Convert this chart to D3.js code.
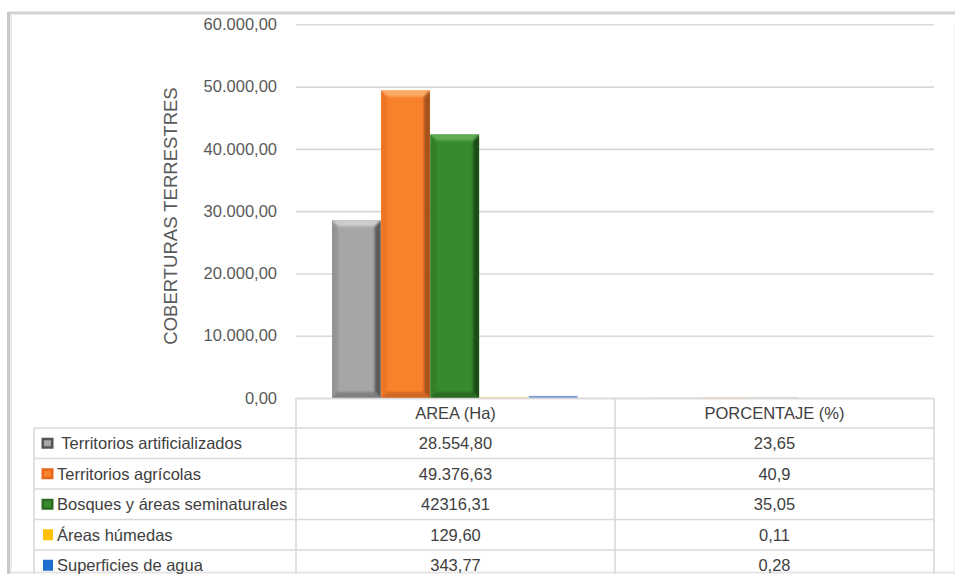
<!DOCTYPE html>
<html>
<head>
<meta charset="utf-8">
<script src="https://cdn.jsdelivr.net/npm/d3@7"></script>
<style>
  html, body { margin: 0; padding: 0; background: #ffffff; }
  svg { display: block; font-family: "Liberation Sans", Arial, sans-serif; }
  text { white-space: pre; }
</style>
</head>
<body>
<svg id="chart" width="955" height="574"></svg>
<script>
// Land cover groups and their values
const categories = ["AREA (Ha)", "PORCENTAJE (%)"];
const seriesNames = [
  " Territorios artificializados",
  "Territorios agrícolas",
  "Bosques y áreas seminaturales",
  "Áreas húmedas",
  "Superficies de agua"
];
const areaValues = [28554.80, 49376.63, 42316.31, 129.60, 343.77];
const percentValues = [23.65, 40.9, 35.05, 0.11, 0.28];
const areaLabels = ["28.554,80", "49.376,63", "42316,31", "129,60", "343,77"];
const percentLabels = ["23,65", "40,9", "35,05", "0,11", "0,28"];
const yTicks = [0, 10000, 20000, 30000, 40000, 50000, 60000];
const axisTitle = "COBERTURAS TERRESTRES";

// Fill palette per series: base, top, left, right, bottom bevel faces
const palette = [
  { base: "#a6a6a6", top: "#cdcdcd", left: "#949494", right: "#5c5c5c", bottom: "#808080", bevel: true },
  { base: "#f8812b", top: "#fcaa66", left: "#ee7421", right: "#a9521a", bottom: "#cf6820", bevel: true },
  { base: "#378b2e", top: "#62ab57", left: "#307f28", right: "#1a4d15", bottom: "#2a6a22", bevel: true },
  { base: "#f3cf7a", top: "#f3cf7a", left: "#f3cf7a", right: "#f3cf7a", bottom: "#f3cf7a", bevel: false },
  { base: "#7d9fd6", top: "#7d9fd6", left: "#7d9fd6", right: "#7d9fd6", bottom: "#7d9fd6", bevel: false }
];
const markerColors = ["#555555", "#e8661d", "#2a6d22", "#ffc000", "#1f6fd0"];

const svg = d3.select("#chart");
const defs = svg.append("defs");
defs.append("filter").attr("id", "soft")
  .attr("x", "-10%").attr("y", "-10%").attr("width", "120%").attr("height", "120%")
  .append("feGaussianBlur").attr("stdDeviation", 0.9);

const plot = { left: 296, right: 934, top: 24.3, bottom: 398 };

const y = d3.scaleLinear().domain([0, 60000]).range([plot.bottom, plot.top]);
const x0 = d3.scaleBand().domain(categories).range([plot.left, plot.right]);
const x1 = d3.scaleBand().domain(d3.range(seriesNames.length))
  .range([36, x0.bandwidth() - 37]);

const locale = d3.formatLocale({ decimal: ",", thousands: ".", grouping: [3], currency: ["", ""] });
const fmt = locale.format(",.2f");

// Outer frame
svg.append("line").attr("x1", 8).attr("x2", 955).attr("y1", 13).attr("y2", 13)
  .attr("stroke", "#d4d4d4").attr("stroke-width", 3);
svg.append("line").attr("x1", 8.5).attr("x2", 8.5).attr("y1", 12).attr("y2", 574)
  .attr("stroke", "#c9c9c9").attr("stroke-width", 3);
svg.append("line").attr("x1", 11).attr("x2", 11).attr("y1", 15).attr("y2", 574)
  .attr("stroke", "#ececec").attr("stroke-width", 2);
svg.append("line").attr("x1", 954).attr("x2", 954).attr("y1", 24).attr("y2", 574)
  .attr("stroke", "#f0f0f0").attr("stroke-width", 1);
svg.append("line").attr("x1", 10).attr("x2", 955).attr("y1", 572.5).attr("y2", 572.5)
  .attr("stroke", "#e6e6e6").attr("stroke-width", 2);

// Gridlines
const yAxis = d3.axisLeft(y).tickValues(yTicks).tickSize(-(plot.right - plot.left)).tickFormat("");
const gGrid = svg.append("g").attr("transform", `translate(${plot.left},0)`).call(yAxis);
gGrid.select(".domain").remove();
gGrid.selectAll(".tick line").attr("stroke", "#d9d9d9").attr("stroke-width", 1.6);

// Tick labels
const yLabels = d3.axisLeft(y).tickValues(yTicks).tickSize(0).tickPadding(0).tickFormat(fmt);
const gLab = svg.append("g").attr("transform", `translate(277,0)`).call(yLabels);
gLab.select(".domain").remove();
gLab.selectAll(".tick line").remove();
gLab.selectAll(".tick text")
  .attr("font-size", 16.5).attr("fill", "#595959")
  .attr("font-family", "'Liberation Sans', Arial, sans-serif");

// Axis title
svg.append("text")
  .attr("transform", `translate(176.5,216) rotate(-90)`)
  .attr("text-anchor", "middle")
  .attr("font-size", 18.5)
  .attr("fill", "#595959")
  .text(axisTitle);

// Bars with bevelled faces
let clipId = 0;
function bevelBar(g, bx, by, bw, bh, c) {
  g.append("rect").attr("x", bx).attr("y", by).attr("width", bw).attr("height", bh).attr("fill", c.base);
  if (!c.bevel || bh < 14) return;
  const id = "barclip" + (clipId++);
  defs.append("clipPath").attr("id", id)
    .append("rect").attr("x", bx).attr("y", by).attr("width", bw).attr("height", bh);
  const fg = g.append("g").attr("clip-path", `url(#${id})`).append("g").attr("filter", "url(#soft)");
  const b = 6;
  const poly = (pts, fill) => fg.append("polygon").attr("points", pts.map(p => p.join(",")).join(" ")).attr("fill", fill);
  poly([[bx - 2, by - 2], [bx + bw + 2, by - 2], [bx + bw - b, by + b], [bx + b, by + b]], c.top);
  poly([[bx - 2, by - 2], [bx + b, by + b], [bx + b, by + bh - b], [bx - 2, by + bh + 2]], c.left);
  poly([[bx + bw + 2, by - 2], [bx + bw + 2, by + bh + 2], [bx + bw - b, by + bh - b], [bx + bw - b, by + b]], c.right);
  poly([[bx - 2, by + bh + 2], [bx + b, by + bh - b], [bx + bw - b, by + bh - b], [bx + bw + 2, by + bh + 2]], c.bottom);
}

const valuesByCategory = [areaValues, percentValues];
categories.forEach((cat, ci) => {
  const g = svg.append("g");
  valuesByCategory[ci].forEach((v, si) => {
    const bx = x0(cat) + x1(si);
    const by = y(v);
    const bh = y(0) - y(v);
    bevelBar(g, bx, by, x1.bandwidth() - 0.5, bh, palette[si]);
  });
});

// Data table
const rowTop = 428, rowH = 30.5, legendLeft = 34;
const tbl = svg.append("g");
const lineColor = "#d9d9d9";
const colEdges = [plot.left, x0(categories[1]), plot.right];
const tableBottom = rowTop + rowH * seriesNames.length;

tbl.append("line").attr("x1", plot.left).attr("x2", plot.right).attr("y1", 398.5).attr("y2", 398.5)
  .attr("stroke", lineColor).attr("stroke-width", 1.6);
colEdges.forEach(cx => {
  tbl.append("line").attr("x1", cx).attr("x2", cx).attr("y1", 398).attr("y2", tableBottom)
    .attr("stroke", lineColor).attr("stroke-width", 1.6);
});
tbl.append("line").attr("x1", legendLeft).attr("x2", legendLeft).attr("y1", rowTop).attr("y2", tableBottom)
  .attr("stroke", lineColor).attr("stroke-width", 1.6);
seriesNames.forEach((s, i) => {
  tbl.append("line").attr("x1", legendLeft).attr("x2", plot.right)
    .attr("y1", rowTop + i * rowH).attr("y2", rowTop + i * rowH)
    .attr("stroke", lineColor).attr("stroke-width", 1.6);
});

// Header
categories.forEach(cat => {
  tbl.append("text")
    .attr("x", x0(cat) + x0.bandwidth() / 2).attr("y", 413)
    .attr("dy", "0.35em").attr("text-anchor", "middle")
    .attr("font-size", 16.5).attr("fill", "#404040").text(cat);
});

// Rows
const cellLabels = [areaLabels, percentLabels];
seriesNames.forEach((s, i) => {
  const cy = rowTop + i * rowH + rowH / 2;
  const mc = markerColors[i];
  if (i < 3) {
    const c = palette[i];
    tbl.append("rect").attr("x", 41.5).attr("y", cy - 5.5).attr("width", 12).attr("height", 11).attr("fill", mc);
    tbl.append("rect").attr("x", 44).attr("y", cy - 3).attr("width", 7).attr("height", 6).attr("fill", c.base);
  } else {
    tbl.append("rect").attr("x", 43).attr("y", cy - 5.5).attr("width", 10).attr("height", 11).attr("fill", mc);
  }
  tbl.append("text")
    .attr("x", 57).attr("y", cy).attr("dy", "0.35em")
    .attr("font-size", 16.5).attr("fill", "#404040").text(s);
  categories.forEach((cat, ci) => {
    tbl.append("text")
      .attr("x", x0(cat) + x0.bandwidth() / 2).attr("y", cy)
      .attr("dy", "0.35em").attr("text-anchor", "middle")
      .attr("font-size", 16.5).attr("fill", "#404040").text(cellLabels[ci][i]);
  });
});
</script>
</body>
</html>
